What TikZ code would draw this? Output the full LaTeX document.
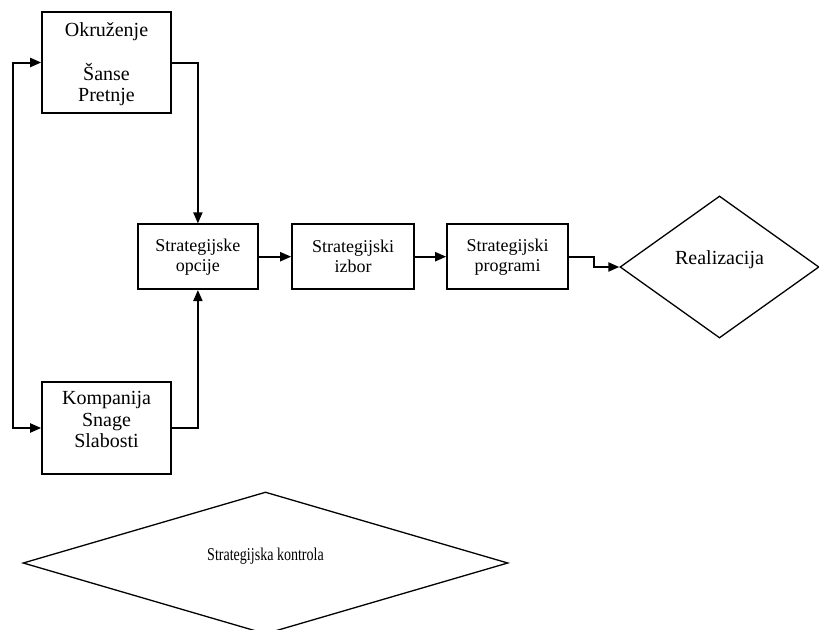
\documentclass[tikz,border=0pt]{standalone}
\usepackage{fontspec}
\setmainfont{Liberation Serif}
\usetikzlibrary{shapes.geometric,arrows.meta}
\begin{document}
\begin{tikzpicture}[x=1pt,y=-1pt,
  >={Triangle[length=11pt,width=9pt]},
  box/.style={draw, line width=1.6pt, inner sep=0pt, align=center},
  bigtxt/.style={align=center, inner sep=0pt, font=\fontsize{20}{21.7}\selectfont},
  midtxt/.style={font=\fontsize{18}{20}\selectfont},
  dia/.style={draw, diamond, line width=1.3pt, inner sep=0pt},
  conn/.style={line width=2pt},
]
\useasboundingbox (0,0) rectangle (819,629);
\clip (0,0) rectangle (819,629);

% side boxes
\node[box, minimum width=129, minimum height=101] (okr) at (106.5,62.5) {};
\node[bigtxt] (okrt) at (106.5,64.6) {Okruženje\\[21.7pt]Šanse\\Pretnje};
\node[box, minimum width=129, minimum height=92] (komp) at (106.5,428) {};
\node[bigtxt] (kompt) at (106.5,419.7) {Kompanija\\Snage\\Slabosti};

% middle row
\node[box, midtxt, minimum width=120.3, minimum height=65] (opc) at (197.9,256.7) {Strategijske\\opcije};
\node[box, midtxt, minimum width=122, minimum height=65] (izb) at (353,256.7) {Strategijski\\izbor};
\node[box, midtxt, minimum width=121, minimum height=65] (prog) at (507.5,256.7) {Strategijski\\programi};

% diamonds
\node[dia, minimum width=199, minimum height=142] (real) at (719.5,267) {};
\node[bigtxt] (realt) at (719.5,260) {Realizacija};
\node[dia, minimum width=485, minimum height=142] (kontr) at (265.5,563) {};
\node[inner sep=0pt, font=\fontsize{18}{20}\selectfont] (kontrt) at (265.5,556) {\scalebox{0.78}[1]{Strategijska kontrola}};

% connectors
\coordinate (lx) at (13,0);
\draw[conn,<->] (okr.west) -- (lx |- okr.west) -- (lx |- komp.west) -- (komp.west);
\draw[conn,->] (okr.east) -| (opc.north);
\draw[conn,->] (komp.east) -| (opc.south);
\draw[conn,->] (opc.east) -- (izb.west);
\draw[conn,->] (izb.east) -- (prog.west);
\draw[conn,->] (prog.east) -- ++(25,0) |- (real.west);
\end{tikzpicture}
\end{document}
